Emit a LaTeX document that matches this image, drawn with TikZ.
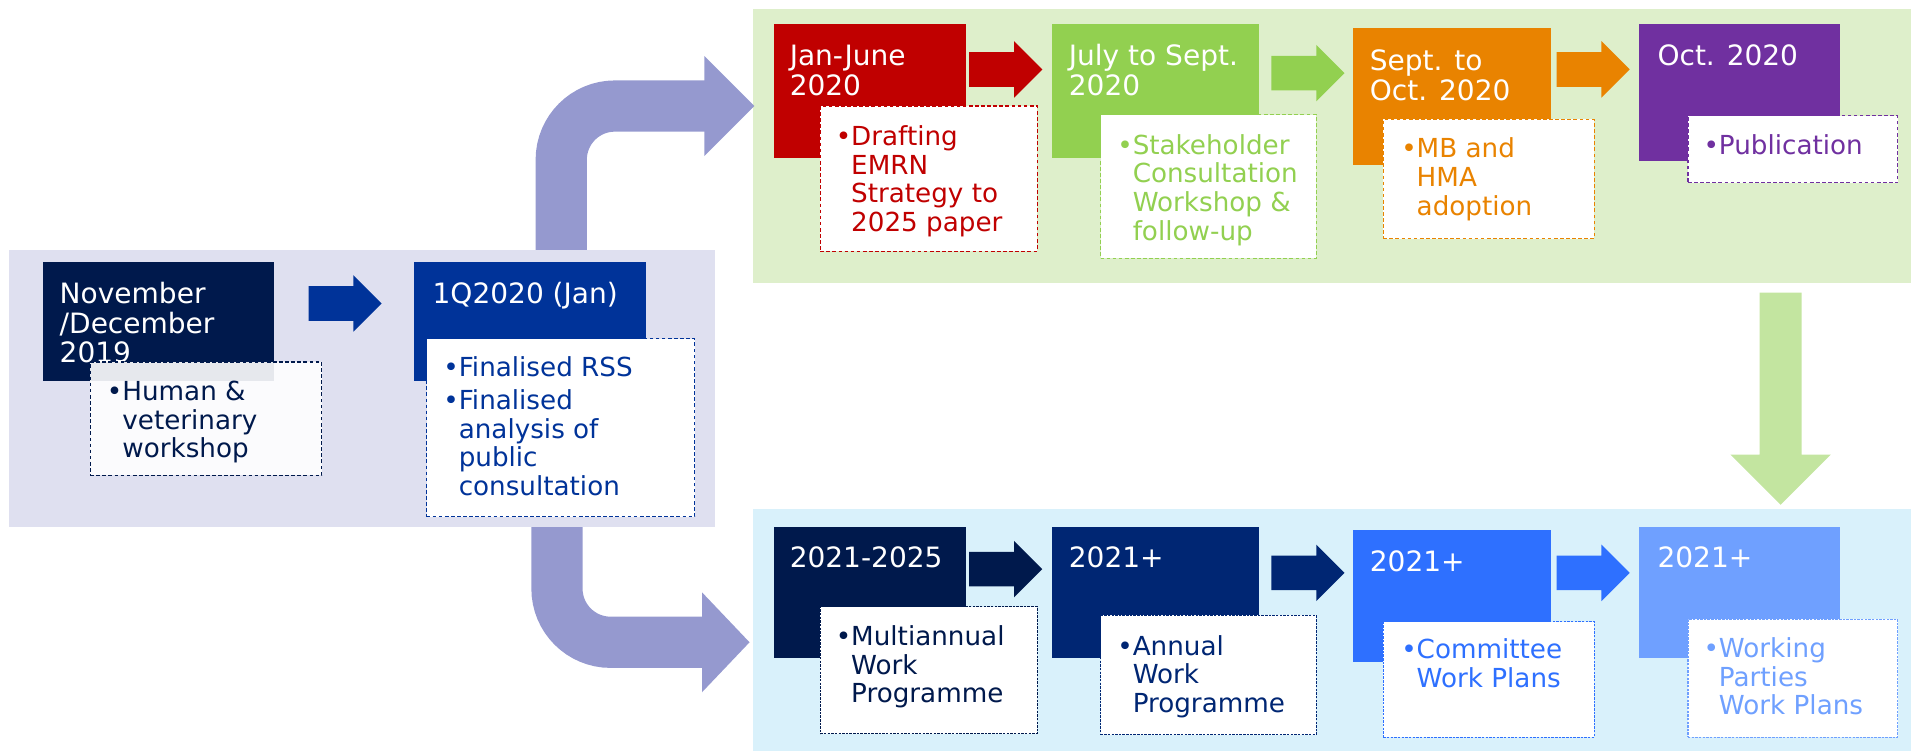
\documentclass[tikz,border=0pt]{standalone}
\usepackage{fontspec}
\setmainfont{DejaVu Sans}
\usetikzlibrary{fit,shapes.arrows}

\definecolor{lavpanel}{RGB}{223,224,240}
\definecolor{greenpanel}{RGB}{222,239,203}
\definecolor{bluepanel}{RGB}{217,241,251}
\definecolor{navy}{RGB}{0,25,76}
\definecolor{royal}{RGB}{0,51,153}
\definecolor{emred}{RGB}{192,0,0}
\definecolor{emgreen}{RGB}{146,208,80}
\definecolor{emorange}{RGB}{233,131,0}
\definecolor{empurple}{RGB}{112,48,160}
\definecolor{blueA}{RGB}{0,38,115}
\definecolor{blueB}{RGB}{46,112,255}
\definecolor{blueC}{RGB}{111,160,255}
\definecolor{curve}{RGB}{149,153,207}
\definecolor{downgreen}{RGB}{195,229,160}

\newcommand{\datelines}[1]{\begin{tabular}[t]{@{}l@{}}#1\end{tabular}}
\newcommand{\bullets}[1]{\begin{tabular}[t]{@{}l@{}l@{}}#1\end{tabular}}

\begin{document}
\begin{tikzpicture}[x=1pt,y=-1pt,
  panel/.style={inner sep=0pt},
  datebox/.style={inner sep=0pt},
  notebox/.style={inner sep=0pt,fill=white,line width=0.9pt,dash pattern=on 3pt off 2pt},
  datetext/.style={anchor=base west,inner sep=0pt,text=white,font=\fontsize{23}{24}\selectfont},
  notetext/.style={anchor=base west,inner sep=0pt,font=\fontsize{21.5}{23.5}\selectfont},
  blockarrow/.style={single arrow,anchor=tail,inner xsep=0pt,inner ysep=14pt,minimum height=60pt,
    minimum width=46pt,single arrow head extend=9pt},
  bendarrow/.style={draw=curve,line width=42pt,rounded corners=44pt}]

\useasboundingbox (0,0) rectangle (1568,616);

\node[panel,fill=greenpanel,fit={(618,7) (1568,232)}] (review) {};
\node[panel,fill=bluepanel,fit={(618,418) (1568,616)}] (plans) {};

\draw[bendarrow] (460.5,220) |- (579,87);
\fill[curve] (578,46) -- (619,87) -- (578,128) -- cycle;
\draw[bendarrow] (457,420) |- (577,527);
\fill[curve] (576,486) -- (615,527) -- (576,568) -- cycle;

\node[panel,fill=lavpanel,fit={(7,205) (587,432)}] (consult) {};

\node[datebox,fill=navy,fit={(35,215) (225,313)}] (nov) {};
\node[datetext] at ([shift={(14,34)}]nov.north west) {\datelines{November\\/December\\2019}};
\node[notebox,draw=navy,fill opacity=0.9,fit={(74,297) (264,390)}] (novnote) {};
\node[notetext,text=navy] at ([shift={(14,32)}]novnote.north west)
  {\bullets{•&Human \&\\&veterinary\\&workshop}};

\node[datebox,fill=royal,fit={(340,215) (530,313)}] (jan) {};
\node[datetext] at ([shift={(15,34)}]jan.north west) {\datelines{1Q2020 (Jan)}};
\node[notebox,draw=royal,fit={(350,278) (570,424)}] (jannote) {};
\node[notetext,text=royal] at ([shift={(14,31)}]jannote.north west)
  {\bullets{•&Finalised RSS\\[4pt]•&Finalised\\&analysis of\\&public\\&consultation}};

\node[datebox,fill=emred,fit={(635,20) (793,130)}] (draft) {};
\node[datetext] at ([shift={(13,34)}]draft.north west) {\datelines{Jan-June\\2020}};
\node[notebox,draw=emred,fit={(673,87) (851,206)}] (draftnote) {};
\node[notetext,text=emred] at ([shift={(13,33)}]draftnote.north west)
  {\bullets{•&Drafting\\&EMRN\\&Strategy to\\&2025 paper}};

\node[datebox,fill=emgreen,fit={(863,20) (1033,130)}] (stake) {};
\node[datetext] at ([shift={(14,34)}]stake.north west) {\datelines{July to Sept.\\2020}};
\node[notebox,draw=emgreen,fit={(903,94) (1080,212)}] (stakenote) {};
\node[notetext,text=emgreen] at ([shift={(14,33)}]stakenote.north west)
  {\bullets{•&Stakeholder\\&Consultation\\&Workshop \&\\&follow-up}};

\node[datebox,fill=emorange,fit={(1110,23) (1273,135)}] (adopt) {};
\node[datetext] at ([shift={(14,35)}]adopt.north west) {\datelines{Sept. to\\Oct. 2020}};
\node[notebox,draw=emorange,fit={(1135,98) (1308,196)}] (adoptnote) {};
\node[notetext,text=emorange] at ([shift={(15,32)}]adoptnote.north west)
  {\bullets{•&MB and\\&HMA\\&adoption}};

\node[datebox,fill=empurple,fit={(1345,20) (1510,132)}] (pub) {};
\node[datetext] at ([shift={(15,34)}]pub.north west) {\datelines{Oct. 2020}};
\node[notebox,draw=empurple,fit={(1385,95) (1557,150)}] (pubnote) {};
\node[notetext,text=empurple] at ([shift={(13,32)}]pubnote.north west)
  {\bullets{•&Publication}};

\node[datebox,fill=navy,fit={(635,432) (793,540)}] (multi) {};
\node[datetext] at ([shift={(13,34)}]multi.north west) {\datelines{2021-2025}};
\node[notebox,draw=navy,dash pattern=on 2pt off 1pt,fit={(673,498) (851,602)}] (multinote) {};
\node[notetext,text=navy] at ([shift={(13,32)}]multinote.north west)
  {\bullets{•&Multiannual\\&Work\\&Programme}};

\node[datebox,fill=blueA,fit={(863,432) (1033,540)}] (annual) {};
\node[datetext] at ([shift={(14,34)}]annual.north west) {\datelines{2021+}};
\node[notebox,draw=blueA,dash pattern=on 2pt off 1pt,fit={(903,505) (1080,603)}] (annualnote) {};
\node[notetext,text=blueA] at ([shift={(14,33)}]annualnote.north west)
  {\bullets{•&Annual\\&Work\\&Programme}};

\node[datebox,fill=blueB,fit={(1110,435) (1273,543)}] (comm) {};
\node[datetext] at ([shift={(14,34)}]comm.north west) {\datelines{2021+}};
\node[notebox,draw=blueB,dash pattern=on 2pt off 1pt,fit={(1135,510) (1308,605)}] (commnote) {};
\node[notetext,text=blueB] at ([shift={(15,31)}]commnote.north west)
  {\bullets{•&Committee\\&Work Plans}};

\node[datebox,fill=blueC,fit={(1345,432) (1510,540)}] (parties) {};
\node[datetext] at ([shift={(15,34)}]parties.north west) {\datelines{2021+}};
\node[notebox,draw=blueC,dash pattern=on 2pt off 1pt,fit={(1385,508) (1557,605)}] (partiesnote) {};
\node[notetext,text=blueC] at ([shift={(13,32)}]partiesnote.north west)
  {\bullets{•&Working\\&Parties\\&Work Plans}};

\foreach \x/\y/\c [count=\i] in {253/249/royal,795/57/emred,1043/60/emgreen,1277/57/emorange,
    795/467/navy,1043/470/blueA,1277/470/blueB}
  \node[blockarrow,fill=\c] (step\i) at (\x,\y) {};

\node[blockarrow,fill=downgreen,rotate=-90,minimum height=174pt,minimum width=82pt,
  inner ysep=17pt,single arrow head extend=24pt] (handover) at (1461,240) {};

\end{tikzpicture}
\end{document}
